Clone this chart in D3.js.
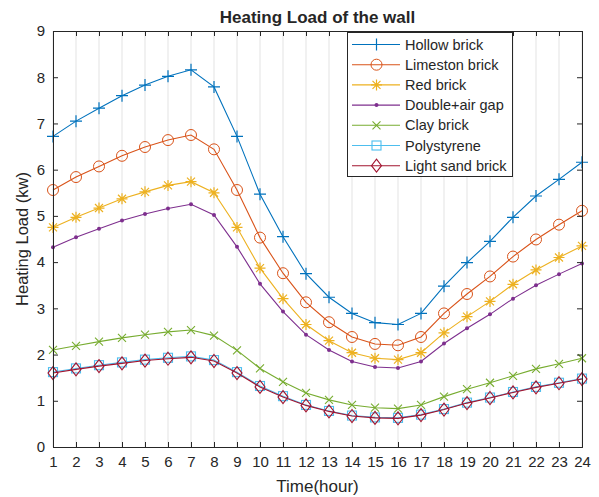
<!DOCTYPE html>
<html>
<head>
<meta charset="utf-8">
<script src="https://d3js.org/d3.v7.min.js"></script>
<style>
  html, body { margin: 0; background: #fff; }
  text { font-family: "Liberation Sans", Arial, sans-serif; fill: #262626; }
</style>
</head>
<body>
<svg id="chart" width="599" height="497"></svg>
<script>
const hours = d3.range(1, 25);
const yTicks = [0, 1, 2, 3, 4, 5, 6, 7, 8, 9];

const hollow = [6.72, 7.05, 7.33, 7.60, 7.83, 8.02, 8.16, 7.79, 6.72, 5.47, 4.55, 3.75, 3.24, 2.89, 2.69, 2.65, 2.89, 3.48, 3.99, 4.45, 4.97, 5.43, 5.79, 6.16];
const limestone = [5.56, 5.84, 6.07, 6.30, 6.49, 6.64, 6.75, 6.44, 5.56, 4.53, 3.76, 3.13, 2.70, 2.38, 2.23, 2.20, 2.38, 2.89, 3.31, 3.69, 4.12, 4.49, 4.81, 5.11];
const redBrick = [4.75, 4.97, 5.17, 5.37, 5.52, 5.66, 5.74, 5.50, 4.75, 3.87, 3.21, 2.65, 2.30, 2.04, 1.92, 1.89, 2.04, 2.47, 2.82, 3.15, 3.52, 3.83, 4.10, 4.35];
const doubleGap = [4.32, 4.54, 4.72, 4.90, 5.04, 5.16, 5.25, 5.02, 4.33, 3.53, 2.93, 2.43, 2.10, 1.85, 1.73, 1.71, 1.85, 2.24, 2.57, 2.87, 3.21, 3.50, 3.74, 3.97];
const clay = [2.10, 2.19, 2.28, 2.36, 2.43, 2.49, 2.53, 2.41, 2.09, 1.70, 1.41, 1.17, 1.02, 0.91, 0.85, 0.83, 0.91, 1.09, 1.25, 1.39, 1.54, 1.69, 1.80, 1.92];
const polystyrene = [1.62, 1.70, 1.77, 1.83, 1.89, 1.93, 1.96, 1.88, 1.62, 1.32, 1.10, 0.91, 0.78, 0.68, 0.64, 0.63, 0.70, 0.82, 0.96, 1.07, 1.19, 1.30, 1.39, 1.48];
const lightSand = [1.60, 1.68, 1.75, 1.81, 1.87, 1.91, 1.94, 1.86, 1.60, 1.30, 1.08, 0.90, 0.77, 0.67, 0.63, 0.62, 0.69, 0.81, 0.95, 1.06, 1.18, 1.29, 1.38, 1.47];

const seriesNames = ["Hollow brick", "Limeston brick", "Red brick", "Double+air gap", "Clay brick", "Polystyrene", "Light sand brick"];
const seriesValues = [hollow, limestone, redBrick, doubleGap, clay, polystyrene, lightSand];
const colors = ["#0072BD", "#D95319", "#EDB120", "#7E2F8E", "#77AC30", "#4DBEEE", "#A2142F"];
const markers = ["plus", "circle", "star", "dot", "cross", "square", "diamond"];

const margin = { left: 53, top: 31, right: 582, bottom: 447 };
const svg = d3.select("#chart");

const x = d3.scaleLinear().domain([1, 24]).range([margin.left, margin.right]);
const y = d3.scaleLinear().domain([0, 9]).range([margin.bottom, margin.top]);

// grid
svg.append("g").selectAll("line").data(hours).enter().append("line")
  .attr("x1", d => x(d)).attr("x2", d => x(d))
  .attr("y1", margin.top).attr("y2", margin.bottom)
  .attr("stroke", "#e3e3e3").attr("stroke-width", 1);

function drawMarker(g, type, color) {
  if (type === "plus") {
    g.append("path").attr("d", "M-6,0H6M0,-6V6").attr("stroke", color).attr("fill", "none").attr("stroke-width", 1.2);
  } else if (type === "circle") {
    g.append("circle").attr("r", 5.5).attr("stroke", color).attr("fill", "none").attr("stroke-width", 1);
  } else if (type === "star") {
    g.append("path").attr("d", "M-5.5,0H5.5M0,-5.5V5.5M-4,-4L4,4M-4,4L4,-4").attr("stroke", color).attr("fill", "none").attr("stroke-width", 1.2);
  } else if (type === "dot") {
    g.append("circle").attr("r", 2).attr("fill", color);
  } else if (type === "cross") {
    g.append("path").attr("d", "M-4,-4L4,4M-4,4L4,-4").attr("stroke", color).attr("fill", "none").attr("stroke-width", 1.1);
  } else if (type === "square") {
    g.append("rect").attr("x", -4.5).attr("y", -4.5).attr("width", 9).attr("height", 9).attr("stroke", color).attr("fill", "none").attr("stroke-width", 1.1);
  } else if (type === "diamond") {
    g.append("path").attr("d", "M0,-6.5L5,0L0,6.5L-5,0Z").attr("stroke", color).attr("fill", "none").attr("stroke-width", 1.1);
  }
}

const line = d3.line().x((d, i) => x(hours[i])).y(d => y(d));

seriesValues.forEach((vals, s) => {
  const g = svg.append("g");
  g.append("path").datum(vals).attr("d", line)
    .attr("fill", "none").attr("stroke", colors[s]).attr("stroke-width", 1.1);
  vals.forEach((v, i) => {
    const m = g.append("g").attr("transform", `translate(${x(hours[i])},${y(v)})`);
    drawMarker(m, markers[s], colors[s]);
  });
});

// axes
const axisColor = "#262626";
const xAxis = svg.append("g").attr("transform", `translate(0,${margin.bottom})`)
  .call(d3.axisBottom(x).tickValues(hours).tickSize(-5).tickPadding(9).tickFormat(d3.format("d")));
const xTop = svg.append("g").attr("transform", `translate(0,${margin.top})`)
  .call(d3.axisTop(x).tickValues(hours).tickSize(-5).tickFormat(""));
const yAxis = svg.append("g").attr("transform", `translate(${margin.left},0)`)
  .call(d3.axisLeft(y).tickValues(yTicks).tickSize(-5).tickPadding(8).tickFormat(d3.format("d")));
const yRight = svg.append("g").attr("transform", `translate(${margin.right},0)`)
  .call(d3.axisRight(y).tickValues(yTicks).tickSize(-5).tickFormat(""));

[xAxis, xTop, yAxis, yRight].forEach(a => {
  a.select(".domain").attr("stroke", axisColor).attr("stroke-width", 1);
  a.selectAll(".tick line").attr("stroke", axisColor);
  a.selectAll(".tick text").attr("font-size", 15).attr("fill", axisColor)
    .style("font-family", "'Liberation Sans', Arial, sans-serif");
});

// title and labels
svg.append("text").attr("x", (margin.left + margin.right) / 2).attr("y", 23)
  .attr("text-anchor", "middle").attr("font-size", 17).attr("font-weight", "bold")
  .attr("fill", "#000").text("Heating Load of the wall");
svg.append("text").attr("x", (margin.left + margin.right) / 2).attr("y", 492)
  .attr("text-anchor", "middle").attr("font-size", 17).text("Time(hour)");
svg.append("text").attr("transform", `translate(28,${(margin.top + margin.bottom) / 2}) rotate(-90)`)
  .attr("text-anchor", "middle").attr("font-size", 16.5).text("Heating Load (kw)");

// legend
const lg = svg.append("g");
lg.append("rect").attr("x", 347.5).attr("y", 32.5).attr("width", 165).attr("height", 144)
  .attr("fill", "#fff").attr("stroke", axisColor).attr("stroke-width", 1);
seriesNames.forEach((name, s) => {
  const ly = 44.5 + s * 20.2;
  lg.append("line").attr("x1", 352).attr("x2", 400).attr("y1", ly).attr("y2", ly)
    .attr("stroke", colors[s]).attr("stroke-width", 1.1);
  const m = lg.append("g").attr("transform", `translate(376.5,${ly})`);
  drawMarker(m, markers[s], colors[s]);
  lg.append("text").attr("x", 405).attr("y", ly + 5).attr("font-size", 14.5).attr("fill", "#000").text(name);
});
</script>
</body>
</html>
